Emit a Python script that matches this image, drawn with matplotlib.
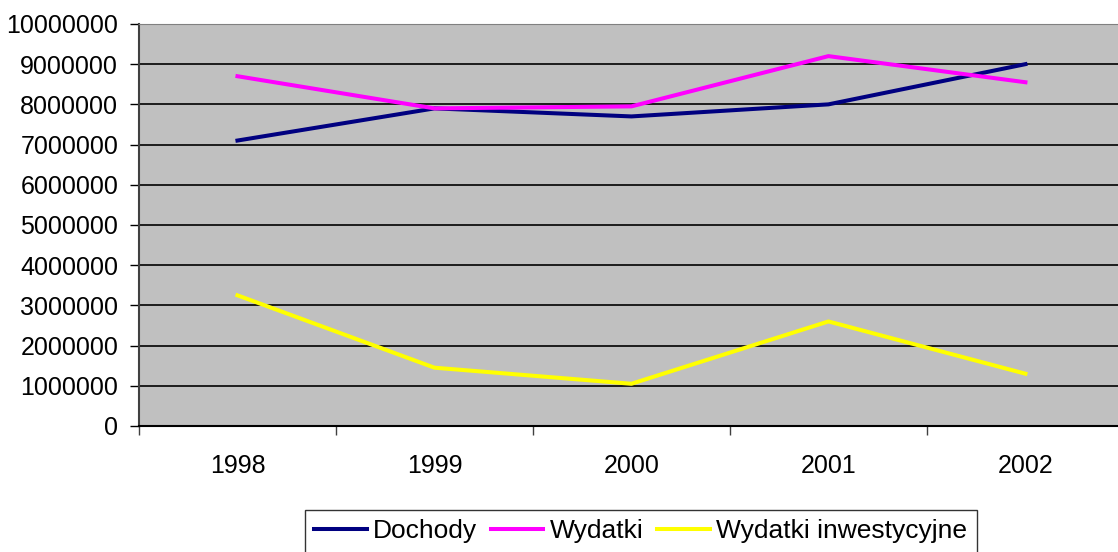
import matplotlib
matplotlib.use("Agg")
import matplotlib.pyplot as plt

# values
years = ["1998", "1999", "2000", "2001", "2002"]
dochody = [7100000, 7900000, 7700000, 8000000, 9000000]
wydatki = [8700000, 7900000, 7950000, 9200000, 8550000]
wydatki_inw = [3250000, 1450000, 1050000, 2600000, 1300000]
y_ticks = [0, 1000000, 2000000, 3000000, 4000000, 5000000,
           6000000, 7000000, 8000000, 9000000, 10000000]

plt.rcParams["font.family"] = ["Liberation Sans", "DejaVu Sans"]
plt.rcParams["font.size"] = 18

fig = plt.figure(figsize=(11.18, 5.52), dpi=100)
ax = fig.add_axes([0.1243, 0.2283, 0.881, 0.7283])
ax.set_facecolor("#C0C0C0")

x = list(range(len(years)))
ax.plot(x, dochody, color="#000080", lw=2.9, label="Dochody")
ax.plot(x, wydatki, color="#FF00FF", lw=2.9, label="Wydatki")
ax.plot(x, wydatki_inw, color="#FFFF00", lw=2.9, label="Wydatki inwestycyjne")

ax.set_xlim(-0.5, len(years) - 0.5)
ax.set_ylim(0, 10000000)
ax.set_yticks(y_ticks)
ax.set_yticklabels([str(v) for v in y_ticks])
ax.yaxis.grid(True, color="black", lw=1.2)
ax.set_axisbelow(True)

# category labels centred, ticks on the boundaries
ax.set_xticks(x)
ax.set_xticklabels(years)
ax.tick_params(axis="x", length=0, pad=20)
ax.set_xticks([i + 0.5 for i in range(-1, len(years))], minor=True)
ax.tick_params(axis="x", which="minor", length=6.5, width=1, color="#404040")
ax.tick_params(axis="y", length=6.5, width=1, color="black", pad=8.5)

for side in ["top", "right"]:
    ax.spines[side].set_color("#808080")
ax.spines["left"].set_color("#404040")
ax.spines["left"].set_linewidth(1.5)
ax.spines["bottom"].set_color("black")
ax.spines["bottom"].set_linewidth(1.5)

leg = fig.legend(loc="upper center", bbox_to_anchor=(0.573, 0.076), ncol=3,
                 frameon=True, fancybox=False, edgecolor="black",
                 handlelength=2.0, handletextpad=0.25, columnspacing=0.5,
                 borderpad=0.35, borderaxespad=0, fontsize=19)
leg.get_frame().set_linewidth(1)

fig.savefig("out.png", dpi=100)
